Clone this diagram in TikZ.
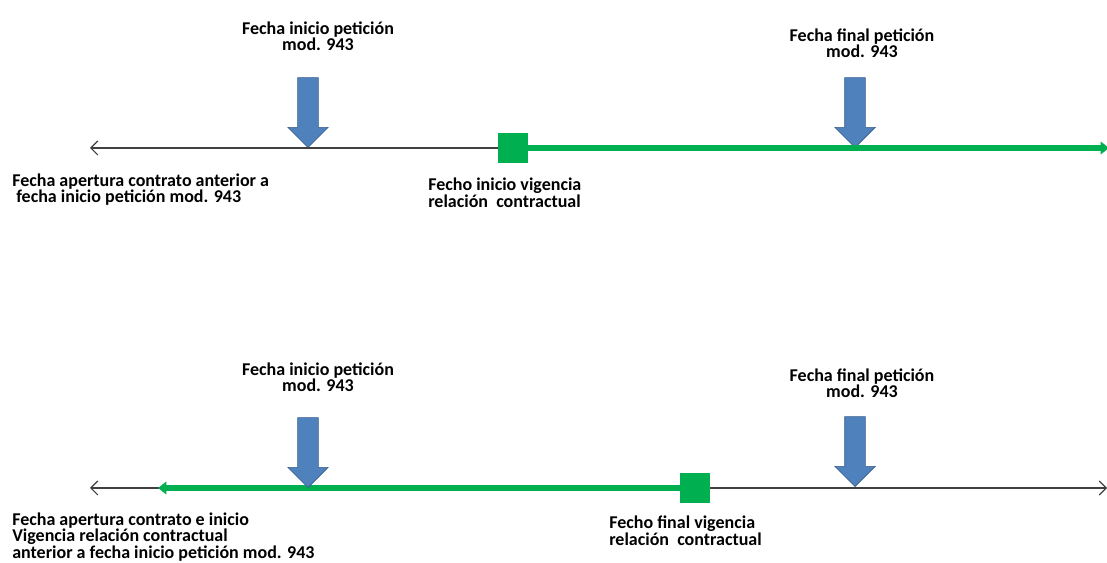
\documentclass[tikz,border=0pt]{standalone}
\usepackage{fontspec}
\setmainfont{Carlito}
\usetikzlibrary{shapes.arrows, arrows.meta, positioning}
\definecolor{mblue}{HTML}{4F81BD}
\definecolor{mblueline}{HTML}{385D8A}
\definecolor{mgreen}{HTML}{00B050}
\tikzstyle{txt} = [font=\bfseries\fontsize{12.8}{10.5}\selectfont, inner sep=0pt, align=center, anchor=base]
\tikzstyle{txtl} = [txt, align=left, anchor=base west]
\tikzstyle{datearrow} = [single arrow, draw=mblueline, fill=mblue, rotate=-90, minimum height=1.75cm, inner xsep=0pt, inner ysep=0.25cm, single arrow head extend=0.25cm, anchor=tip]
\tikzstyle{vigbox} = [fill=mgreen, minimum size=0.75cm, inner sep=0pt]
\tikzstyle{axis} = [draw=black!75, line width=0.8pt]
\tikzstyle{vigline} = [draw=mgreen, line width=4pt]

\begin{document}
\begin{tikzpicture}[x=0.025cm, y=-0.025cm]
    \useasboundingbox (0,0) rectangle (1107,563);
    % primer caso
    \coordinate (leftA) at (90,148);
    \coordinate (rightA) at (1109,148);
    \node[vigbox] (boxA) at (513,148) {};
    \node[datearrow] (iniA) at (308,148) {};
    \node[datearrow] (finA) at (855,148) {};
    \node[txt] (tiniA) at (318,51) {Fecha inicio petición\\mod. 943};
    \node[txt] (tfinA) at (862,58) {Fecha final petición\\mod. 943};
    \node[txtl] (tapA) at (12,203) {Fecha apertura contrato anterior a\\\ fecha inicio petición mod. 943};
    \node[txtl] (tvigA) at (428,208) {Fecho inicio vigencia\\relación\ \ contractual};
    \draw[axis, -{Straight Barb[length=5pt, width=10pt]}] (boxA.west) -- (leftA);
    \draw[vigline, -{Triangle[length=6pt, width=9pt]}] (boxA.east) -- (rightA);
    % segundo caso
    \coordinate (leftB) at (90,488);
    \coordinate (greenB) at (158,488);
    \coordinate (rightB) at (1107,488);
    \node[vigbox] (boxB) at (695,488) {};
    \node[txt] (tiniB) at (318,392) {Fecha inicio petición\\mod. 943};
    \node[txt] (tfinB) at (862,398) {Fecha final petición\\mod. 943};
    \node[txtl] (tapB) at (12,559) {Fecha apertura contrato e inicio\\Vigencia relación contractual\\anterior a fecha inicio petición mod. 943};
    \node[txtl] (tvigB) at (609,546) {Fecho final vigencia\\relación\ \ contractual};
    \draw[axis, -{Straight Barb[length=5pt, width=10pt]}] (boxB.west) -- (leftB);
    \draw[axis, -{Straight Barb[length=5pt, width=10pt]}] (boxB.east) -- (rightB);
    \draw[vigline, -{Triangle[length=6pt, width=9pt]}] (boxB.west) -- (greenB);
    \node[datearrow] (iniB) at (308,488) {};
    \node[datearrow] (finB) at (855,487) {};
\end{tikzpicture}
\end{document}
